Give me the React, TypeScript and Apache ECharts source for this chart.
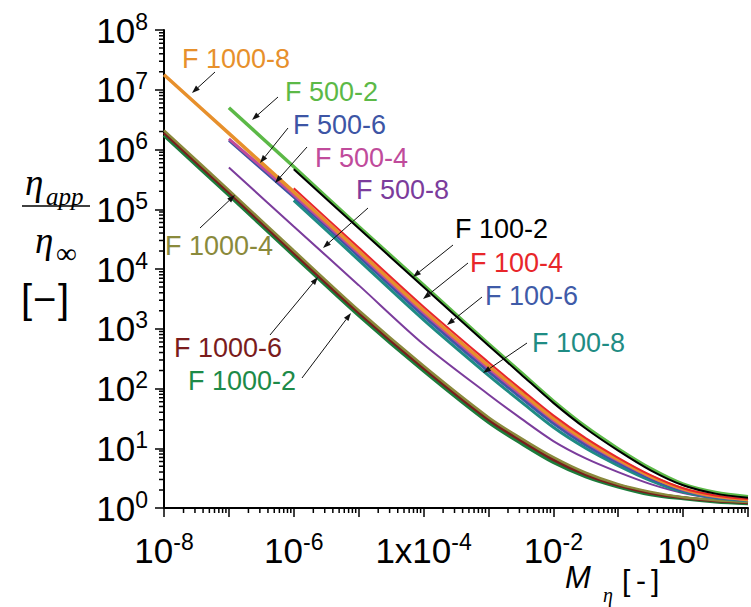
import React, { useEffect, useRef } from 'react';
import * as echarts from 'echarts';

// Mn sample points (F1000 curves start at 1e-8, F500 at 1e-7, F100 at 1e-6)
const MN = [1e-8, 1e-7, 1e-6, 1e-5, 1e-4, 1e-3, 3.16e-3, 1e-2, 3.16e-2, 0.1, 0.316, 1, 3.16, 10];

// eta_app / eta_inf for each formulation
const F1000_2 = [1.74e6, 1.74e5, 1.7e4, 1.7e3, 200, 27.5, 12.3, 5.89, 3.39, 2.29, 1.7, 1.45, 1.29, 1.2];
const F1000_4 = [2.09e6, 2.09e5, 2.04e4, 2.04e3, 240, 33.1, 14.8, 7.08, 3.89, 2.51, 1.86, 1.51, 1.35, 1.26];
const F1000_6 = [1.91e6, 1.91e5, 1.86e4, 1.86e3, 219, 30.2, 13.5, 6.46, 3.63, 2.4, 1.78, 1.48, 1.32, 1.23];
const F1000_8 = [1.78e7, 1.86e6, 1.95e5, 2.0e4, 2.04e3, 240, 87.1, 31.6, 13.5, 6.46, 3.39, 2.09, 1.58, 1.38];

const F500_2 = [5.01e6, 5.13e5, 5.13e4, 5.37e3, 562, 186, 61.7, 22.9, 9.77, 4.57, 2.51, 1.82, 1.55];
const F500_4 = [1.51e6, 1.74e5, 1.82e4, 1.86e3, 219, 79.4, 29.5, 12.6, 6.17, 3.31, 2.04, 1.55, 1.38];
const F500_6 = [1.41e6, 1.58e5, 1.66e4, 1.74e3, 204, 74.1, 27.5, 11.7, 5.89, 3.16, 2.0, 1.55, 1.35];
const F500_8 = [5.01e5, 5.13e4, 5.37e3, 550, 79.4, 31.6, 13.2, 6.76, 3.98, 2.51, 1.78, 1.45, 1.32];

const F100_2 = [4.68e5, 4.79e4, 5.01e3, 525, 174, 57.5, 21.4, 9.12, 4.27, 2.4, 1.74, 1.48];
const F100_4 = [2.24e5, 2.29e4, 2.34e3, 275, 97.7, 35.5, 14.8, 6.92, 3.55, 2.14, 1.62, 1.41];
const F100_6 = [1.66e5, 1.62e4, 1.62e3, 191, 69.2, 25.7, 11.2, 5.62, 3.09, 1.95, 1.51, 1.35];
const F100_8 = [1.41e5, 1.41e4, 1.41e3, 166, 60.3, 22.4, 10.0, 5.13, 2.88, 1.86, 1.48, 1.32];

// draw order: first entry lies underneath
const CURVES = [
  { name: 'F 1000-2', start: 0, values: F1000_2, color: '#1d7c3c', width: 4 },
  { name: 'F 1000-6', start: 0, values: F1000_6, color: '#7a1c1c', width: 3 },
  { name: 'F 1000-4', start: 0, values: F1000_4, color: '#8a8a3c', width: 2.5 },
  { name: 'F 500-8', start: 1, values: F500_8, color: '#7b3c9c', width: 2 },
  { name: 'F 100-8', start: 2, values: F100_8, color: '#1f8c84', width: 3 },
  { name: 'F 100-6', start: 2, values: F100_6, color: '#3f5ba8', width: 2.5 },
  { name: 'F 500-6', start: 1, values: F500_6, color: '#3d55a5', width: 2.5 },
  { name: 'F 500-4', start: 1, values: F500_4, color: '#c04b9b', width: 3 },
  { name: 'F 1000-8', start: 0, values: F1000_8, color: '#e7902c', width: 3.5 },
  { name: 'F 100-4', start: 2, values: F100_4, color: '#e8262a', width: 2 },
  { name: 'F 500-2', start: 1, values: F500_2, color: '#5cb947', width: 3.5 },
  { name: 'F 100-2', start: 2, values: F100_2, color: '#000000', width: 2 },
];

// annotation labels: text position and arrow (from -> tip)
const NOTES = [
  { text: 'F 1000-8', color: '#e7902c', x: 182, y: 59, from: [215, 72], tip: [192, 93] },
  { text: 'F 500-2', color: '#5cb947', x: 285, y: 92, from: [278, 97], tip: [252, 120] },
  { text: 'F 500-6', color: '#3d55a5', x: 293, y: 125, from: [288, 128], tip: [260, 163] },
  { text: 'F 500-4', color: '#c04b9b', x: 315, y: 158, from: [307, 147], tip: [275, 183] },
  { text: 'F 500-8', color: '#7b3c9c', x: 356, y: 190, from: [368, 208], tip: [323, 248] },
  { text: 'F 100-2', color: '#000000', x: 455, y: 229, from: [453, 245], tip: [413, 277] },
  { text: 'F 100-4', color: '#e8262a', x: 470, y: 263, from: [468, 263], tip: [423, 299] },
  { text: 'F 100-6', color: '#3f5ba8', x: 485, y: 296, from: [482, 297], tip: [447, 325] },
  { text: 'F 100-8', color: '#1f8c84', x: 532, y: 343, from: [527, 343], tip: [483, 373] },
  { text: 'F 1000-4', color: '#8a8a3c', x: 165, y: 246, from: [200, 228], tip: [235, 195] },
  { text: 'F 1000-6', color: '#7a1c1c', x: 174, y: 348, from: [270, 335], tip: [318, 277] },
  { text: 'F 1000-2', color: '#1d8a48', x: 188, y: 381, from: [302, 378], tip: [351, 313] },
];

const X_DECADES = [-8, -7, -6, -5, -4, -3, -2, -1, 0];
const Y_DECADES = [0, 1, 2, 3, 4, 5, 6, 7];
const MINOR_STEPS = [2, 3, 4, 5, 6, 7, 8, 9];

const SANS = '"Liberation Sans", Arial, sans-serif';
const SERIF = '"Liberation Serif", "Times New Roman", serif';

function arrow(from: number[], tip: number[]) {
  const dx = tip[0] - from[0];
  const dy = tip[1] - from[1];
  const len = Math.hypot(dx, dy);
  const ux = dx / len;
  const uy = dy / len;
  const hl = 8;
  const hw = 2.8;
  const bx = tip[0] - ux * hl;
  const by = tip[1] - uy * hl;
  return [
    {
      type: 'line',
      shape: { x1: from[0], y1: from[1], x2: bx, y2: by },
      style: { stroke: '#111', lineWidth: 1 },
      z: 100,
    },
    {
      type: 'polygon',
      shape: {
        points: [
          [tip[0], tip[1]],
          [bx - uy * hw, by + ux * hw],
          [bx + uy * hw, by - ux * hw],
        ],
      },
      style: { fill: '#111' },
      z: 100,
    },
  ];
}

function textEl(text: string, x: number, y: number, font: string, fill = '#000', align = 'left') {
  return {
    type: 'text',
    x,
    y,
    z: 100,
    style: {
      text,
      font,
      fill,
      textAlign: align,
      textVerticalAlign: 'middle',
      align,
      verticalAlign: 'middle',
    },
  };
}

function expLabel(v: number) {
  return Math.round(Math.log10(v));
}

export default function App() {
  const ref = useRef<HTMLDivElement>(null);

  useEffect(() => {
    const chart = echarts.init(ref.current!, undefined, { renderer: 'svg' });

    const lineSeries = CURVES.map((c) => ({
      name: c.name,
      type: 'line',
      data: c.values.map((v, i) => [MN[c.start + i], v]),
      showSymbol: false,
      symbol: 'none',
      smooth: 0.3,
      lineStyle: { color: c.color, width: c.width },
      itemStyle: { color: c.color },
      emphasis: { disabled: true },
      silent: true,
    }));

    const xMinor: number[][] = [];
    X_DECADES.forEach((d) => MINOR_STEPS.forEach((m) => xMinor.push([m * Math.pow(10, d), 1])));
    const yMinor: number[][] = [];
    Y_DECADES.forEach((d) => MINOR_STEPS.forEach((m) => yMinor.push([1e-8, m * Math.pow(10, d)])));

    const minorX = {
      type: 'custom',
      clip: false,
      silent: true,
      data: xMinor,
      renderItem: (_p: any, api: any) => {
        const pt = api.coord([api.value(0), api.value(1)]);
        return {
          type: 'line',
          shape: { x1: pt[0], y1: pt[1], x2: pt[0], y2: pt[1] + 5 },
          style: { stroke: '#000', lineWidth: 1.5 },
        };
      },
    };
    const minorY = {
      type: 'custom',
      clip: false,
      silent: true,
      data: yMinor,
      renderItem: (_p: any, api: any) => {
        const pt = api.coord([api.value(0), api.value(1)]);
        return {
          type: 'line',
          shape: { x1: pt[0] - 5, y1: pt[1], x2: pt[0], y2: pt[1] },
          style: { stroke: '#000', lineWidth: 1.5 },
        };
      },
    };

    const graphics: any[] = [];
    NOTES.forEach((n) => {
      graphics.push(textEl(n.text, n.x, n.y, `27px ${SANS}`, n.color));
      graphics.push(...arrow(n.from, n.tip));
    });
    // y axis title: eta_app / eta_inf [−]
    graphics.push(textEl('η', 25, 182, `italic 37px ${SERIF}`));
    graphics.push(textEl('app', 46, 196, `italic 25px ${SERIF}`));
    graphics.push({
      type: 'line',
      shape: { x1: 22, y1: 206, x2: 90, y2: 206 },
      style: { stroke: '#000', lineWidth: 1.5 },
    });
    graphics.push(textEl('η', 35, 240, `italic 37px ${SERIF}`));
    graphics.push(textEl('∞', 56, 253, `29px ${SERIF}`));
    graphics.push(textEl('[', 21, 299, `40px ${SANS}`));
    graphics.push(textEl('−', 33, 299, `40px ${SANS}`));
    graphics.push(textEl(']', 58, 299, `40px ${SANS}`));
    // x axis title: M_eta [-]
    graphics.push(textEl('M', 565, 577, `italic 31px ${SANS}`));
    graphics.push(textEl('η', 603, 595, `italic 20px ${SERIF}`));
    graphics.push(textEl('[', 622, 580, `30px ${SANS}`));
    graphics.push(textEl('-', 636, 580, `30px ${SANS}`));
    graphics.push(textEl(']', 651, 580, `30px ${SANS}`));

    const labelRich = (supLine: number) => ({
      b: { fontSize: 35, fontFamily: SANS, color: '#000', lineHeight: 40 },
      s: { fontSize: 23, fontFamily: SANS, color: '#000', lineHeight: supLine, verticalAlign: 'top' },
    });

    chart.setOption({
      animation: false,
      backgroundColor: '#ffffff',
      grid: { left: 164, top: 30, right: -2.5, bottom: 99, containLabel: false },
      xAxis: {
        type: 'log',
        logBase: 10,
        min: 1e-8,
        max: 10,
        splitNumber: 9,
        axisLine: { lineStyle: { color: '#000', width: 2 } },
        axisTick: { length: 9, lineStyle: { color: '#000', width: 1.5 } },
        minorTick: { show: false },
        splitLine: { show: false },
        axisLabel: {
          margin: 22,
          color: '#000',
          showMinLabel: true,
          showMaxLabel: true,
          formatter: (v: number) => {
            const e = expLabel(v);
            if (e % 2 !== 0 || e > 0) return '';
            return e === -4 ? `{b|1x10}{s|${e}}` : `{b|10}{s|${e}}`;
          },
          rich: labelRich(10),
        },
      },
      yAxis: {
        type: 'log',
        logBase: 10,
        min: 1,
        max: 1e8,
        splitNumber: 8,
        axisLine: { lineStyle: { color: '#000', width: 2 } },
        axisTick: { length: 9, lineStyle: { color: '#000', width: 1.5 } },
        minorTick: { show: false },
        splitLine: { show: false },
        axisLabel: {
          margin: 16,
          color: '#000',
          showMinLabel: true,
          showMaxLabel: true,
          formatter: (v: number) => `{b|10}{s|${expLabel(v)}}`,
          rich: labelRich(16),
        },
      },
      series: [...lineSeries, minorX, minorY],
      graphic: graphics,
    });

    return () => chart.dispose();
  }, []);

  return (
    <div
      ref={ref}
      style={{ position: 'absolute', left: 0, top: 0, width: 751, height: 607, background: '#fff' }}
    />
  );
}
